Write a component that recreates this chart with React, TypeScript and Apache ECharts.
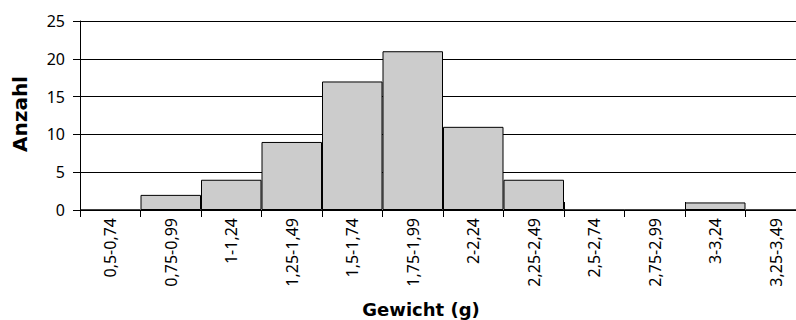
import React, { useEffect, useRef } from "react";
import * as echarts from "echarts";

const categories = [
  "0,5-0,74", "0,75-0,99", "1-1,24", "1,25-1,49", "1,5-1,74", "1,75-1,99",
  "2-2,24", "2,25-2,49", "2,5-2,74", "2,75-2,99", "3-3,24", "3,25-3,49",
];
const counts = [0, 2, 4, 9, 17, 21, 11, 4, 0, 0, 1, 0];
const yTitle = "Anzahl";
const xTitle = "Gewicht (g)";

const LABEL_FONT = "'Noto Sans', sans-serif";
const TITLE_FONT = "'DejaVu Sans', sans-serif";

export default function App() {
  const ref = useRef<HTMLDivElement>(null);
  useEffect(() => {
    if (!ref.current) return;
    const chart = echarts.init(ref.current, null, { renderer: "svg" });
    chart.setOption({
      animation: false,
      backgroundColor: "#ffffff",
      grid: { left: 80, top: 21, right: 0, bottom: 110, containLabel: false },
      xAxis: [
        {
          type: "category",
          data: categories,
          boundaryGap: true,
          axisLine: { show: true, lineStyle: { color: "#000", width: 1 } },
          axisTick: { show: true, inside: false, length: 7, alignWithLabel: false, lineStyle: { color: "#000" } },
          axisLabel: {
            rotate: 90,
            margin: 8,
            interval: 0,
            color: "#000",
            fontSize: 16,
            fontFamily: LABEL_FONT,
          },
          splitLine: { show: false },
        },
        {
          type: "category",
          data: categories,
          position: "bottom",
          boundaryGap: true,
          axisLine: { show: false },
          axisTick: { show: true, inside: true, length: 8, alignWithLabel: false, lineStyle: { color: "#000" } },
          axisLabel: { show: false },
          splitLine: { show: false },
        },
      ],
      yAxis: {
        type: "value",
        min: 0,
        max: 25,
        interval: 5,
        axisLine: { show: true, lineStyle: { color: "#000", width: 1 } },
        axisTick: { show: true, inside: false, length: 7, lineStyle: { color: "#000" } },
        axisLabel: { margin: 15, color: "#000", fontSize: 16, fontFamily: LABEL_FONT },
        splitLine: { show: true, lineStyle: { color: "#000", width: 1 } },
      },
      series: [
        {
          type: "bar",
          xAxisIndex: 0,
          data: counts,
          barCategoryGap: "0%",
          itemStyle: { color: "#cccccc", borderColor: "#000", borderWidth: 1 },
        },
      ],
      graphic: [
        {
          type: "text",
          x: 20,
          y: 114,
          rotation: Math.PI / 2,
          style: {
            text: yTitle,
            fontSize: 20,
            fontWeight: "bold",
            fontFamily: TITLE_FONT,
            fill: "#000",
            align: "center",
            verticalAlign: "middle",
          },
        },
        {
          type: "text",
          x: 421,
          y: 309,
          style: {
            text: xTitle,
            fontSize: 18,
            fontWeight: "bold",
            fontFamily: TITLE_FONT,
            fill: "#000",
            align: "center",
            verticalAlign: "middle",
          },
        },
      ],
    });
    return () => chart.dispose();
  }, []);
  return (
    <div
      ref={ref}
      style={{ position: "fixed", left: 0, top: 0, width: 806, height: 320 }}
    />
  );
}
